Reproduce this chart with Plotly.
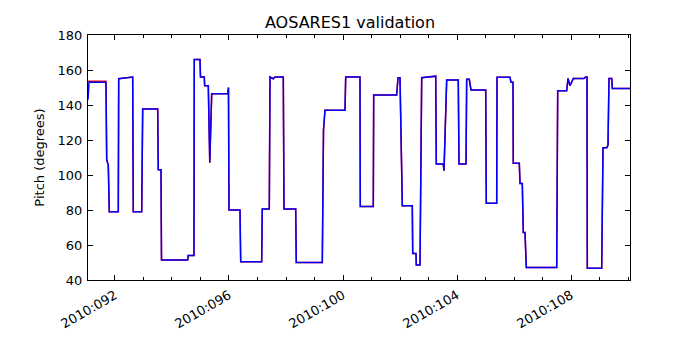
import plotly.graph_objects as go

# Day-of-year (2010) for each vertex, and pitch in degrees
days_blue = [91.053, 91.07, 91.088, 91.684, 91.709, 91.765, 91.80, 92.116, 92.13, 92.621, 92.642,
             92.937, 92.951, 92.972, 93.498, 93.519, 93.614, 93.632, 94.551, 94.568, 94.772, 94.782,
             94.982, 95.0, 95.133, 95.147, 95.274, 95.291, 95.326, 95.393, 95.954, 95.982, 96.0,
             96.386, 96.411, 97.147, 97.168, 97.414, 97.439, 97.554, 97.614, 97.905, 97.93, 98.34,
             98.361, 99.274, 99.298, 99.316, 99.368, 100.07, 100.095, 100.596, 100.607, 101.063,
             101.077, 101.884, 101.93, 102.0, 102.081, 102.432, 102.446, 102.561, 102.572, 102.702,
             102.761, 103.158, 103.253, 103.274, 103.519, 103.544, 103.638, 104.045, 104.07, 104.316,
             104.34, 104.431, 104.491, 105.007, 105.028, 105.393, 105.404, 105.86, 105.895, 105.965,
             105.975, 106.186, 106.211, 106.291, 106.326, 106.386, 106.432, 107.498, 107.533, 107.849,
             107.895, 107.965, 108.081, 108.456, 108.516, 108.561, 108.572, 109.077, 109.123, 109.253,
             109.298, 109.333, 109.428, 109.449, 110.07]
pitch_blue = [143.0, 150.0, 153.0, 153.0, 108.6, 105.7, 79.0, 79.0, 155.0, 156.0, 79.0,
              79.0, 125.7, 137.7, 137.7, 103.0, 103.0, 51.4, 51.4, 54.0, 54.0, 166.0,
              166.0, 156.0, 156.0, 151.0, 151.0, 127.0, 107.0, 146.5, 146.5, 150.0, 80.0,
              80.0, 50.5, 50.5, 80.6, 80.6, 156.0, 155.0, 156.0, 156.0, 80.6, 80.6,
              50.0, 50.0, 110.5, 125.7, 137.0, 137.0, 156.0, 156.0, 82.0, 82.0,
              145.7, 145.7, 155.6, 155.6, 82.5, 82.5, 55.2, 55.2, 48.6, 48.6,
              155.6, 156.5, 156.5, 106.3, 106.3, 102.5, 154.3, 154.3, 106.3, 106.3,
              154.7, 154.7, 148.6, 148.6, 83.8, 83.8, 155.8, 155.8, 153.0, 153.0,
              106.7, 106.7, 95.2, 95.2, 67.2, 67.2, 47.2, 47.2, 148.2, 148.2,
              155.2, 151.0, 155.2, 155.2, 156.0, 156.0, 46.7, 46.7, 115.6, 115.6,
              117.0, 155.2, 155.2, 149.5, 149.5]

days_red = [91.053, 91.07, 91.684, 91.709, 91.765, 91.80, 92.116, 92.13, 92.621, 92.642,
            92.937, 92.951, 92.972, 93.498, 93.519, 93.614, 93.632, 94.551, 94.568, 94.772, 94.782,
            94.982, 95.0, 95.133, 95.147, 95.274, 95.291, 95.326, 95.393, 95.954, 95.982, 96.0,
            96.386, 96.411, 97.147, 97.168, 97.414, 97.439, 97.554, 97.614, 97.905, 97.93, 98.34,
            98.361, 99.274, 99.298, 99.316, 99.368, 100.07, 100.095, 100.596, 100.607, 101.063,
            101.077, 101.884, 101.93, 102.0, 102.081, 102.432, 102.446, 102.561, 102.572, 102.702,
            102.761, 103.158, 103.253, 103.274, 103.519, 103.544, 103.638, 104.045, 104.07, 104.316,
            104.34, 104.431, 104.491, 105.007, 105.028, 105.393, 105.404, 105.86, 105.895, 105.965,
            105.975, 106.186, 106.211, 106.291, 106.326, 106.386, 106.432, 107.498, 107.533, 107.849,
            107.895, 107.965, 108.081, 108.456, 108.516, 108.561, 108.572, 109.077, 109.123, 109.253,
            109.298, 109.333, 109.428, 109.449, 110.07]
pitch_red = [153.5, 153.6, 153.6, 108.6, 105.7, 79.0, 79.0, 155.0, 156.0, 79.0,
             79.0, 125.7, 137.7, 137.7, 103.0, 103.0, 51.4, 51.4, 54.0, 54.0, 166.0,
             166.0, 156.0, 156.0, 151.0, 151.0, 127.0, 107.0, 146.5, 146.5, 150.0, 80.0,
             80.0, 50.5, 50.5, 80.6, 80.6, 156.0, 155.0, 156.0, 156.0, 80.6, 80.6,
             50.0, 50.0, 110.5, 125.7, 137.0, 137.0, 156.0, 156.0, 82.0, 82.0,
             145.7, 145.7, 155.6, 155.6, 82.5, 82.5, 55.2, 55.2, 48.6, 48.6,
             155.6, 156.5, 156.5, 106.3, 106.3, 102.5, 154.3, 154.3, 106.3, 106.3,
             154.7, 154.7, 148.6, 148.6, 83.8, 83.8, 155.8, 155.8, 153.0, 153.0,
             106.7, 106.7, 95.2, 95.2, 67.2, 67.2, 47.2, 47.2, 148.2, 148.2,
             155.2, 151.0, 155.2, 155.2, 156.0, 156.0, 46.7, 46.7, 115.6, 115.6,
             117.0, 155.2, 155.2, 149.5, 149.5]

tick_days = [92, 96, 100, 104, 108]
tick_labels = ["2010:092", "2010:096", "2010:100", "2010:104", "2010:108"]

fig = go.Figure()
fig.add_trace(go.Scatter(x=days_red, y=pitch_red, mode="lines",
                         line=dict(color="#ff0000", width=1.5), showlegend=False))
fig.add_trace(go.Scatter(x=days_blue, y=pitch_blue, mode="lines",
                         line=dict(color="#0000ff", width=1.5), showlegend=False))

fig.update_layout(
    width=700, height=350,
    margin=dict(l=88, r=70, t=35, b=70),
    paper_bgcolor="white", plot_bgcolor="white",
    font=dict(family="DejaVu Sans", size=13, color="black"),
    title=dict(text="AOSARES1 validation", x=0.5, xanchor="center", y=0.937, yanchor="middle",
               font=dict(size=16, family="DejaVu Sans", color="black")),
)
fig.update_xaxes(
    range=[91.053, 110.07], tickmode="array", tickvals=tick_days, ticktext=tick_labels,
    tickangle=-30, ticks="inside", ticklen=5, tickcolor="black",
    showline=True, linecolor="black", linewidth=1, mirror="ticks",
    showgrid=False, zeroline=False, ticklabelstandoff=2,
    minor=dict(dtick=1, tick0=92, ticks="inside", ticklen=3, tickcolor="black", showgrid=False),
    tickfont=dict(size=13),
)
fig.update_yaxes(
    range=[40, 180], tickmode="linear", tick0=40, dtick=20,
    ticks="inside", ticklen=5, tickcolor="black",
    showline=True, linecolor="black", linewidth=1, mirror="ticks",
    showgrid=False, zeroline=False, ticklabelstandoff=2,
    title=dict(text="Pitch (degrees)", font=dict(size=13), standoff=10),
    tickfont=dict(size=13),
)

fig.write_html("out.html")
